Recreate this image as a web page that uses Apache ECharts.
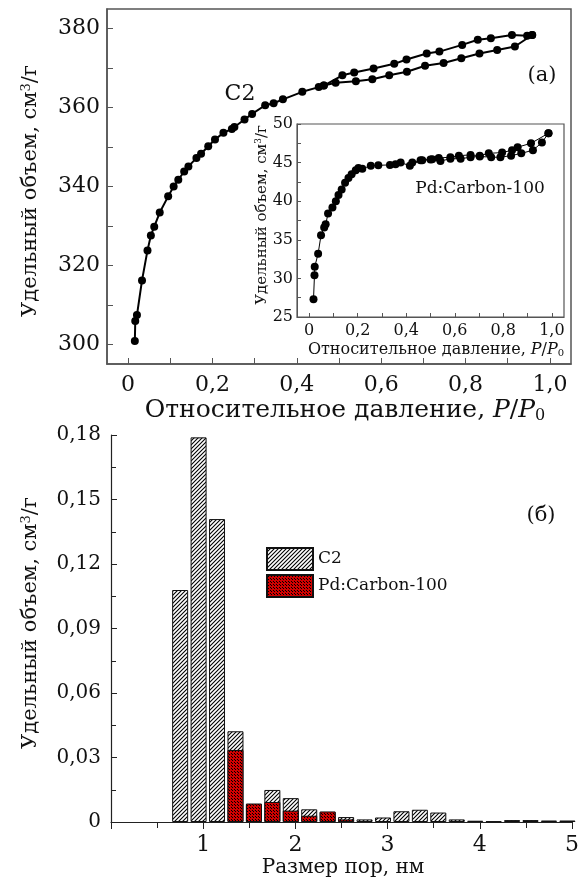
<!DOCTYPE html>
<html><head><meta charset="utf-8">
<script src="https://cdn.jsdelivr.net/npm/echarts@6/dist/echarts.min.js"></script>
<style>html,body{margin:0;padding:0;background:#fff}#c{width:582px;height:886px}</style>
</head><body><div id="c"></div>
<script>
// ---- (a) main isotherm, sample C2 ----
const c2AdsX = [0.016,0.017,0.021,0.033,0.046,0.054,0.062,0.075,0.095,0.108,0.119,0.133,0.143,0.162,0.173,0.190,0.206,0.226,0.246,0.252,0.276,0.294,0.325,0.345,0.367,0.413,0.452,0.464,0.492,0.540,0.579,0.619,0.661,0.704,0.748,0.790,0.833,0.875,0.917,0.958];
const c2AdsY = [300.8,305.9,307.4,316.2,323.8,327.6,329.8,333.4,337.5,340.0,341.7,343.8,345.1,347.2,348.3,350.2,351.9,353.6,354.6,355.1,357.0,358.4,360.6,361.1,362.1,364.0,365.2,365.6,366.3,366.7,367.2,368.2,369.1,370.6,371.3,372.5,373.7,374.6,375.5,378.4];
const c2DesX = [0.958,0.946,0.910,0.860,0.829,0.792,0.738,0.708,0.660,0.631,0.582,0.536,0.508,0.464];
const c2DesY = [378.4,378.2,378.4,377.6,377.2,375.9,374.2,373.7,372.2,371.1,369.9,368.9,368.2,365.6];
// ---- inset isotherm, Pd:Carbon-100 ----
const pdAdsX = [0.018,0.022,0.023,0.037,0.049,0.062,0.068,0.078,0.096,0.110,0.121,0.134,0.148,0.162,0.175,0.192,0.203,0.219,0.254,0.285,0.333,0.356,0.377,0.415,0.459,0.500,0.541,0.582,0.624,0.665,0.703,0.750,0.788,0.832,0.874,0.922,0.959,0.986];
const pdAdsY = [27.3,30.4,31.5,33.2,35.6,36.6,37.0,38.4,39.2,40.0,40.8,41.5,42.4,43.0,43.5,44.0,44.3,44.2,44.6,44.65,44.7,44.8,45.0,44.6,45.3,45.4,45.2,45.5,45.5,45.7,45.8,45.7,45.7,45.9,46.2,46.6,47.6,48.8];
const pdDesX = [0.986,0.914,0.859,0.836,0.795,0.740,0.703,0.665,0.617,0.582,0.534,0.507,0.466,0.425];
const pdDesY = [48.8,47.5,47.0,46.6,46.3,46.2,45.9,46.0,45.9,45.7,45.6,45.45,45.3,45.0];
// ---- (б) pore size distribution ----
const poreX  = [0.75,0.95,1.15,1.35,1.55,1.75,1.95,2.15,2.35,2.55,2.75,2.95,3.15,3.35,3.55,3.75,3.95,4.15,4.35,4.55,4.75,4.95];
const poreC2 = [0.1079,0.1789,0.1409,0.0422,0.0080,0.0149,0.0111,0.0059,0.0046,0.0023,0.0012,0.0021,0.0050,0.0057,0.0044,0.0012,0.0006,0.0003,0.0009,0.0009,0.0007,0.0007];
const porePd = [null,null,null,0.0335,0.0086,0.0093,0.0053,0.0029,0.0049,0.0012,null,null,null,null,null,null,null,null,null,null,null,null];
// ---- tick values ----
const mainXTicks = [0,0.1,0.2,0.3,0.4,0.5,0.6,0.7,0.8,0.9,1.0];
const mainXLabels = [0,0.2,0.4,0.6,0.8,1.0];
const mainYTicks = [300,310,320,330,340,350,360,370,380];
const mainYLabels = [300,320,340,360,380];
const insetXTicks = [0,0.1,0.2,0.3,0.4,0.5,0.6,0.7,0.8,0.9,1.0];
const insetXLabels = [0,0.2,0.4,0.6,0.8,1.0];
const insetYTicks = [25,27.5,30,32.5,35,37.5,40,42.5,45,47.5,50];
const insetYLabels = [25,30,35,40,45,50];

const F = 'DejaVu Serif';
const zip = (a,b) => a.map((v,i)=>[v,b[i]]);
const comma1 = v => v===0 ? '0' : v.toFixed(1).replace('.',',');

function hatch(){
  const c=document.createElement('canvas'); c.width=4; c.height=4;
  const g=c.getContext('2d'); g.fillStyle='#fff'; g.fillRect(0,0,4,4);
  g.strokeStyle='#000'; g.lineWidth=1.1;
  g.beginPath(); g.moveTo(0,4); g.lineTo(4,0); g.moveTo(-1,1); g.lineTo(1,-1); g.moveTo(3,5); g.lineTo(5,3); g.stroke();
  return c;
}
function dots(){
  const c=document.createElement('canvas'); c.width=3; c.height=3;
  const g=c.getContext('2d'); g.fillStyle='#d00000'; g.fillRect(0,0,3,3);
  g.fillStyle='#000'; g.fillRect(0,0,1,1); g.fillRect(1,1,1,1);
  return c;
}
const hatchFill={image:hatch(),repeat:'repeat'};
const dotFill={image:dots(),repeat:'repeat'};

const chart = echarts.init(document.getElementById('c'), null, {renderer:'canvas'});
const lbl = (sz)=>({fontFamily:F,fontSize:sz,color:'#111'});
const txt = (x,y,text,sz,rot,rich)=>({type:'text',x:x,y:y,rotation:rot||0,z:100,
  style:{text:text,fontFamily:F,fontSize:sz,fill:'#111',textAlign:'center',textVerticalAlign:'middle',rich:rich||{}}});
const supR = sz=>({sup:{fontFamily:F,fontSize:Math.round(sz*0.6),verticalAlign:'top',fill:'#111'}});
const pR = sz=>({i:{fontFamily:F,fontSize:sz,fontStyle:'italic',fill:'#111'},sub:{fontFamily:F,fontSize:Math.round(sz*0.62),padding:[Math.round(sz*0.45),0,0,0],fill:'#111'}});

chart.setOption({
  animation:false,
  backgroundColor:'#fff',
  grid:[
    {left:107,top:9,width:464,height:355,show:true,borderColor:'#555',borderWidth:1.5,backgroundColor:'transparent'},
    {left:297,top:124,width:267,height:193,show:true,borderColor:'#555',borderWidth:1.2,backgroundColor:'#fff',z:5},
    {left:111,top:435,right:9,bottom:64}
  ],
  xAxis:[
    {gridIndex:0,type:'value',min:-0.05,max:1.05,splitLine:{show:false},
     axisLine:{onZero:false,lineStyle:{color:'#555',width:1.5}},
     axisTick:{inside:true,length:6,customValues:mainXTicks,lineStyle:{color:'#555'}},
     axisLabel:{customValues:mainXLabels,formatter:comma1,margin:10,...lbl(22)}},
    {gridIndex:1,type:'value',min:-0.05,max:1.05,splitLine:{show:false},z:6,
     axisLine:{onZero:false,lineStyle:{color:'#555'}},
     axisTick:{inside:true,length:4,customValues:insetXTicks,lineStyle:{color:'#555'}},
     axisLabel:{customValues:insetXLabels,formatter:comma1,margin:6,...lbl(16)}},
    {gridIndex:2,type:'value',min:0,max:5,interval:1,splitLine:{show:false},
     axisLine:{onZero:false,lineStyle:{color:'#222',width:1.2}},
     axisTick:{inside:false,length:7,lineStyle:{color:'#222'}},
     minorTick:{show:true,splitNumber:2,length:6,lineStyle:{color:'#222'}},
     axisLabel:{formatter:v=>v===0?'':String(v),margin:12,...lbl(22)}}
  ],
  yAxis:[
    {gridIndex:0,type:'value',min:295,max:385,splitLine:{show:false},
     axisLine:{onZero:false,lineStyle:{color:'#555',width:1.5}},
     axisTick:{inside:true,length:6,customValues:mainYTicks,lineStyle:{color:'#555'}},
     axisLabel:{customValues:mainYLabels,margin:7,...lbl(22)}},
    {gridIndex:1,type:'value',min:25,max:50,splitLine:{show:false},z:6,
     axisLine:{onZero:false,lineStyle:{color:'#555'}},
     axisTick:{inside:true,length:4,customValues:insetYTicks,lineStyle:{color:'#555'}},
     axisLabel:{customValues:insetYLabels,margin:4,...lbl(16)}},
    {gridIndex:2,type:'value',min:0,max:0.18,interval:0.03,splitLine:{show:false},
     axisLine:{show:true,onZero:false,lineStyle:{color:'#222',width:1.2}},
     axisTick:{show:true,inside:true,length:6,lineStyle:{color:'#222'}},
     minorTick:{show:true,splitNumber:2,length:5,lineStyle:{color:'#222'}},
     axisLabel:{formatter:v=>v===0?'0':v.toFixed(2).replace('.',','),margin:10,...lbl(20)}}
  ],
  legend:{left:261,top:542,orient:'vertical',itemWidth:46,itemHeight:22,itemGap:3,icon:'rect',
    textStyle:{fontFamily:F,fontSize:17,color:'#111'},data:['C2','Pd:Carbon-100']},
  series:[
    {type:'line',name:'C2 ads',xAxisIndex:0,yAxisIndex:0,data:zip(c2AdsX,c2AdsY),symbol:'circle',symbolSize:8,
     lineStyle:{color:'#000',width:2},itemStyle:{color:'#000'}},
    {type:'line',name:'C2 des',xAxisIndex:0,yAxisIndex:0,data:zip(c2DesX,c2DesY),symbol:'circle',symbolSize:8,
     lineStyle:{color:'#000',width:2},itemStyle:{color:'#000'}},
    {type:'line',name:'Pd ads',xAxisIndex:1,yAxisIndex:1,data:zip(pdAdsX,pdAdsY),symbol:'circle',symbolSize:8,z:7,
     lineStyle:{color:'#000',width:1},itemStyle:{color:'#000'}},
    {type:'line',name:'Pd des',xAxisIndex:1,yAxisIndex:1,data:zip(pdDesX,pdDesY),symbol:'circle',symbolSize:8,z:7,
     lineStyle:{color:'#000',width:1},itemStyle:{color:'#000'}},
    {type:'bar',name:'C2',xAxisIndex:2,yAxisIndex:2,data:zip(poreX,poreC2),barWidth:16,barGap:'-100%',
     itemStyle:{color:hatchFill,borderColor:'#111',borderWidth:1}},
    {type:'bar',name:'Pd:Carbon-100',xAxisIndex:2,yAxisIndex:2,data:zip(poreX,porePd).filter(d=>d[1]!==null),barWidth:16,barGap:'-100%',
     itemStyle:{color:dotFill,borderColor:'#111',borderWidth:1}}
  ],
  graphic:[
    txt(31,191,'Удельный объем, см{sup|3}/г',21,Math.PI/2,supR(21)),
    txt(345,410,'Относительное давление, {i|P}/{i|P}{sub|0}',25,0,pR(25)),
    txt(262,215,'Удельный объем, см{sup|3}/г',15,Math.PI/2,supR(15)),
    txt(436,350,'Относительное давление, {i|P}/{i|P}{sub|0}',16,0,pR(16)),
    txt(240,94,'C2',22),
    txt(542,76,'(a)',21),
    txt(480,189,'Pd:Carbon-100',17),
    txt(541,516,'(б)',21),
    txt(31,623,'Удельный объем, см{sup|3}/г',21,Math.PI/2,supR(21)),
    txt(343,868,'Размер пор, нм',20)
  ]
});
</script></body></html>
